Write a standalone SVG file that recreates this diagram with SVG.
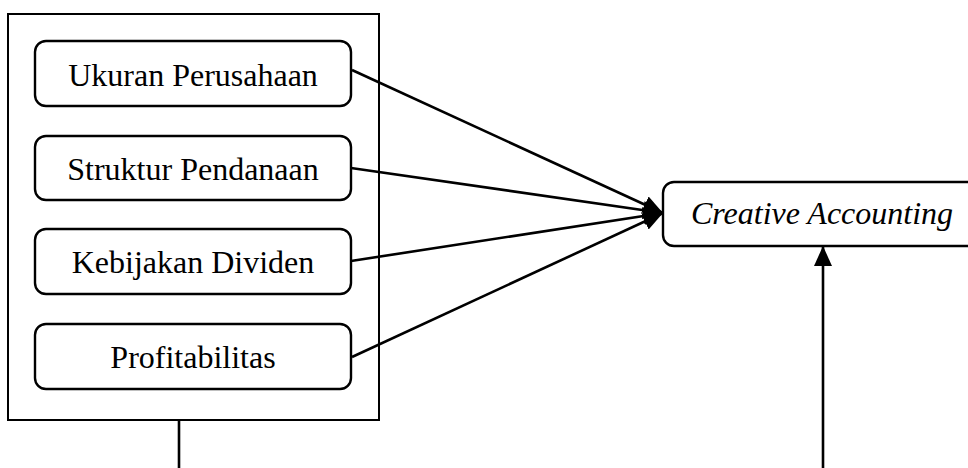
<svg xmlns="http://www.w3.org/2000/svg" width="968" height="468" viewBox="0 0 968 468">
  <style>
    .box { fill: #fff; stroke: #000; stroke-width: 2.4; }
    .frame { fill: none; stroke: #000; stroke-width: 2; }
    .lbl { font-family: "Liberation Serif", "Times New Roman", serif; font-size: 32px; fill: #000; text-anchor: middle; }
    .it { font-style: italic; }
    .conn { stroke: #000; stroke-width: 2.6; fill: none; }
  </style>
  <defs>
    <marker id="arr" markerUnits="userSpaceOnUse" markerWidth="22" markerHeight="20" refX="20" refY="9" orient="auto">
      <path d="M0,0 L20,9 L0,18 z" fill="#000"/>
    </marker>
  </defs>
  <rect width="968" height="468" fill="#fff"/>
  <g id="group-frame">
    <rect class="frame" x="8" y="14" width="371" height="406"/>
  </g>
  <g id="node-ukuran">
    <rect class="box" x="35" y="41" width="316" height="65" rx="11"/>
    <text class="lbl" x="193" y="86">Ukuran Perusahaan</text>
  </g>
  <g id="node-struktur">
    <rect class="box" x="35" y="136" width="316" height="64" rx="11"/>
    <text class="lbl" x="193" y="180">Struktur Pendanaan</text>
  </g>
  <g id="node-kebijakan">
    <rect class="box" x="35" y="229" width="316" height="65" rx="11"/>
    <text class="lbl" x="193" y="273">Kebijakan Dividen</text>
  </g>
  <g id="node-profitabilitas">
    <rect class="box" x="35" y="324" width="316" height="65" rx="11"/>
    <text class="lbl" x="193" y="368">Profitabilitas</text>
  </g>
  <g id="node-creative">
    <rect class="box" x="663" y="182" width="317" height="64" rx="11"/>
    <text class="lbl it" x="822" y="224">Creative Accounting</text>
  </g>
  <g id="connectors">
    <line class="conn" x1="352" y1="70" x2="663" y2="213" marker-end="url(#arr)"/>
    <line class="conn" x1="351" y1="168" x2="663" y2="213" marker-end="url(#arr)"/>
    <line class="conn" x1="351" y1="261" x2="663" y2="213" marker-end="url(#arr)"/>
    <line class="conn" x1="352" y1="357" x2="663" y2="213" marker-end="url(#arr)"/>
    <line class="conn" x1="823" y1="468" x2="823" y2="246" marker-end="url(#arr)"/>
    <line class="conn" x1="179" y1="420" x2="179" y2="468"/>
  </g>
</svg>
